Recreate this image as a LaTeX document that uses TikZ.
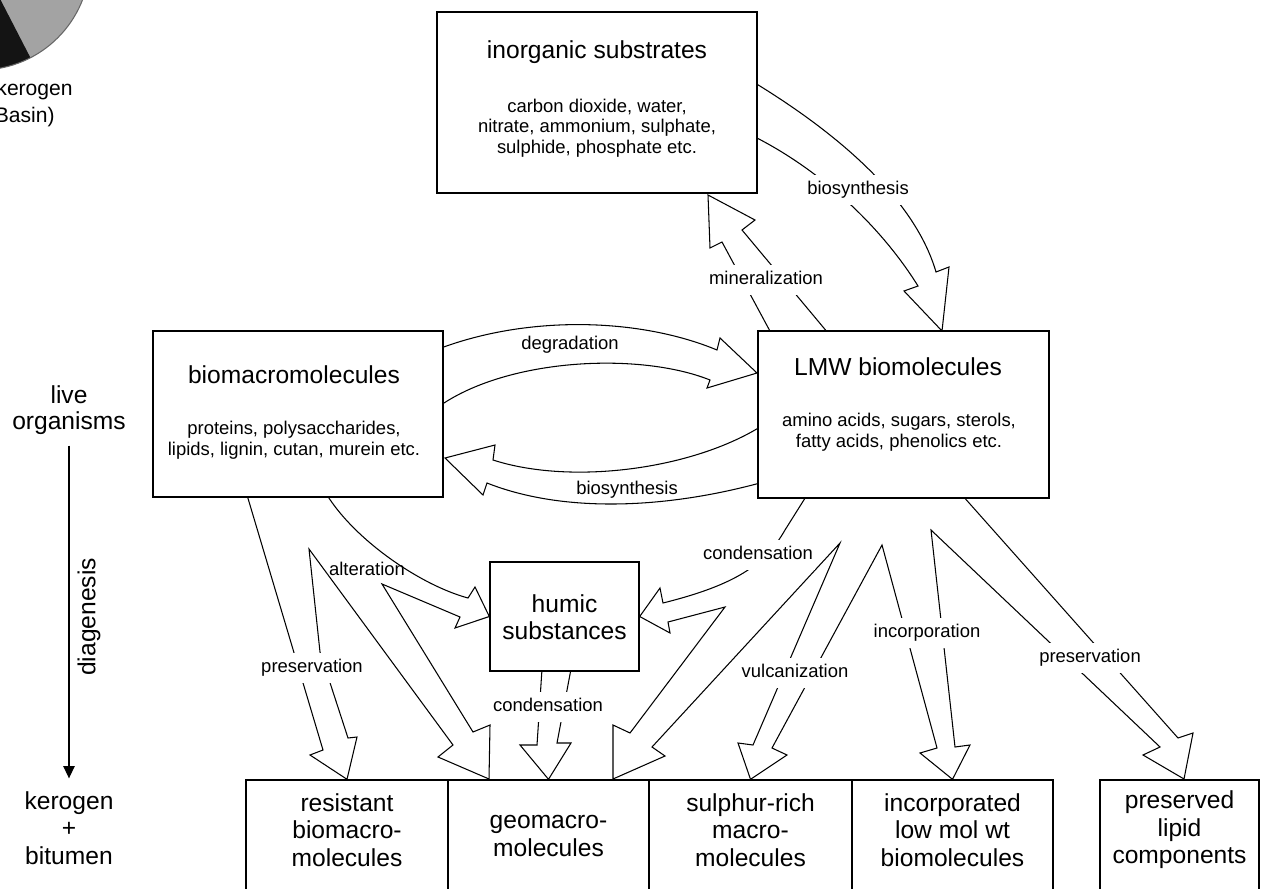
\documentclass[tikz,border=0pt]{standalone}
\usepackage{fontspec}
\setmainfont{Liberation Sans}
\usetikzlibrary{arrows.meta, backgrounds}
\newcommand\boxfont{\fontsize{14}{15.6}\selectfont}
\newcommand\notefont{\fontsize{10.5}{11.7}\selectfont}
\tikzset{
    box/.style = {draw, line width=0.8pt, fill=white, inner sep=0pt},
    title/.style = {font=\boxfont, align=center},
    detail/.style = {font=\notefont, align=center},
    fat/.style = {draw, line width=0.6pt, fill=white, line join=miter},
    lbl/.style = {font=\notefont, fill=white, inner xsep=1pt, inner ysep=3.7pt,
        text height=7.6pt, text depth=2.2pt},
    timeaxis/.style = {-{Triangle[length=7pt, width=6.5pt]}, line width=0.7pt}
}
\begin{document}
\begin{tikzpicture}[x=0.02cm, y=-0.02cm]
    \useasboundingbox (0,0) rectangle (1266,888);
    \clip (0,0) rectangle (1266,888);
    % remnant of the neighbouring pie chart
    \begin{scope}
        \clip (-20,-40) circle (110);
        \fill[black!36] (-20,-40) circle (110);
        \fill[black!92] (-20,-40) -- (45,86) -- (-150,86) -- (-150,-40) -- cycle;
    \end{scope}
    \draw[black!60, line width=0.6pt] (-20,-40) circle (110);
    \node[font=\fontsize{12}{14}\selectfont, anchor=east, inner sep=0pt] (kerotop) at (73,90) {kerogen};
    \node[font=\fontsize{12}{14}\selectfont, anchor=east, inner sep=0pt] (basin) at (55,117) {Basin)};

    % boxes
    \node[box, minimum width=6.4cm, minimum height=3.62cm] (inorg) at (597,102.5) {};
    \node[title] (inorgtitle) at (597,52) {inorganic substrates};
    \node[detail] (inorgtext) at (597,128) {carbon dioxide, water,\\nitrate, ammonium, sulphate,\\sulphide, phosphate etc.};

    \node[box, minimum width=5.8cm, minimum height=3.32cm] (bio) at (298,414) {};
    \node[title] (biotitle) at (294,375) {biomacromolecules};
    \node[detail] (biotext) at (294,440) {proteins, polysaccharides,\\lipids, lignin, cutan, murein etc.};

    \node[box, minimum width=5.82cm, minimum height=3.34cm] (lmw) at (903.5,414.5) {};
    \node[title] (lmwtitle) at (898,367) {LMW biomolecules};
    \node[detail] (lmwtext) at (899,432) {amino acids, sugars, sterols,\\fatty acids, phenolics etc.};

    \node[box, minimum width=2.98cm, minimum height=2.18cm] (hum) at (564.5,616.5) {};
    \node[title] (humtext) at (564.5,617) {humic\\substances};

    \node[box, minimum width=4.04cm, minimum height=2.4cm] (res) at (347,840) {};
    \node[box, minimum width=4.02cm, minimum height=2.4cm] (geo) at (548.5,840) {};
    \node[box, minimum width=4.06cm, minimum height=2.4cm] (sul) at (750.5,840) {};
    \node[box, minimum width=4.02cm, minimum height=2.4cm] (inc) at (952.5,840) {};
    \node[box, minimum width=3.18cm, minimum height=2.4cm] (pre) at (1179.5,840) {};
    \node[title] (restext) at (347,830) {resistant\\biomacro-\\molecules};
    \node[title] (geotext) at (548.5,836) {geomacro-\\molecules};
    \node[title] (sultext) at (750.5,830) {sulphur-rich\\macro-\\molecules};
    \node[title] (inctext) at (952.5,830) {incorporated\\low mol wt\\biomolecules};
    \node[title] (pretext) at (1179.5,830) {preserved\\lipid\\components};

    % time axis on the left
    \node[title, font=\fontsize{14}{14.8}\selectfont] (live) at (69,410) {live\\organisms};
    \node[title] (kb) at (69,828) {kerogen\\+\\bitumen};
    \draw[timeaxis, shorten <=2.8pt, shorten >=4pt] (live) -- (kb);
    \node[title, rotate=90] (diag) at (89,617) {diagenesis};

    % broad arrows
    \begin{scope}[on background layer]
        \draw[fat] (755,83) .. controls (840,135) and (915,200) .. (936,272) -- (949,267) -- (942,331)
            -- (904,291) -- (918,286) .. controls (880,225) and (820,170) .. (755,137) -- cycle;
        \draw[fat] (771,333) -- (722,242) -- (710,248) -- (708,195) -- (755,220) -- (742,230) -- (828,333) -- cycle;
        \draw[fat] (441,348) .. controls (530,315) and (640,318) .. (717,350) -- (720,338) -- (757,373)
            -- (707,388) -- (710,380) .. controls (640,352) and (510,358) .. (441,405) -- cycle;
        \draw[fat] (760,427) .. controls (690,470) and (570,485) .. (493,460) -- (495,445) -- (445,458)
            -- (483,495) -- (487,483) .. controls (560,512) and (660,510) .. (760,483) -- cycle;
        \draw[fat] (247,495) -- (323,750) -- (310,755) -- (res.north) -- (357,737) -- (348,738)
            -- (320,652) -- (309,549) -- (453,745) -- (438,757) -- (489,779) -- (490,725) -- (473,732)
            -- (382,584) -- (460,617) -- (455,628) -- (hum.west) -- (475,587) -- (468,598)
            .. controls (420,585) and (355,540) .. (327,495) -- cycle;
        \draw[fat] (807,495) -- (785,530) .. controls (765,565) and (735,585) .. (663,603) -- (660,588)
            -- (hum.east) -- (670,633) -- (668,622) -- (725,607) -- (630,733) -- (613,725) -- (613,779)
            -- (665,756) -- (652,747) -- (840,543) -- (753,745) -- (738,743) -- (sul.north) -- (787,755)
            -- (772,748) -- (882,545) -- (937,748) -- (920,753) -- (inc.north) -- (970,745) -- (955,747)
            -- (931,530) -- (1160,747) -- (1143,755) -- (1184,779) -- (1193,733) -- (1178,738)
            -- (962,495) -- cycle;
        \draw[fat] (542,669) -- (537,745) -- (520,745) -- (geo.north) -- (571,743) -- (557,743) -- (571,669) -- cycle;
    \end{scope}

    % arrow labels
    \node[lbl] (lbiotop) at (858,190) {biosynthesis};
    \node[lbl] (lmin) at (766,280) {mineralization};
    \node[lbl, fill=none] (ldeg) at (570,345) {degradation};
    \node[lbl, fill=none] (lbiomid) at (627,490) {biosynthesis};
    \node[lbl, fill=none] (lalt) at (367,571) {alteration};
    \node[lbl] (lpresl) at (312,668) {preservation};
    \node[lbl] (lconhum) at (548,707) {condensation};
    \node[lbl] (lconlmw) at (758,555) {condensation};
    \node[lbl] (lvul) at (795,673) {vulcanization};
    \node[lbl] (linc) at (927,633) {incorporation};
    \node[lbl] (lpresr) at (1090,658) {preservation};
\end{tikzpicture}
\end{document}
